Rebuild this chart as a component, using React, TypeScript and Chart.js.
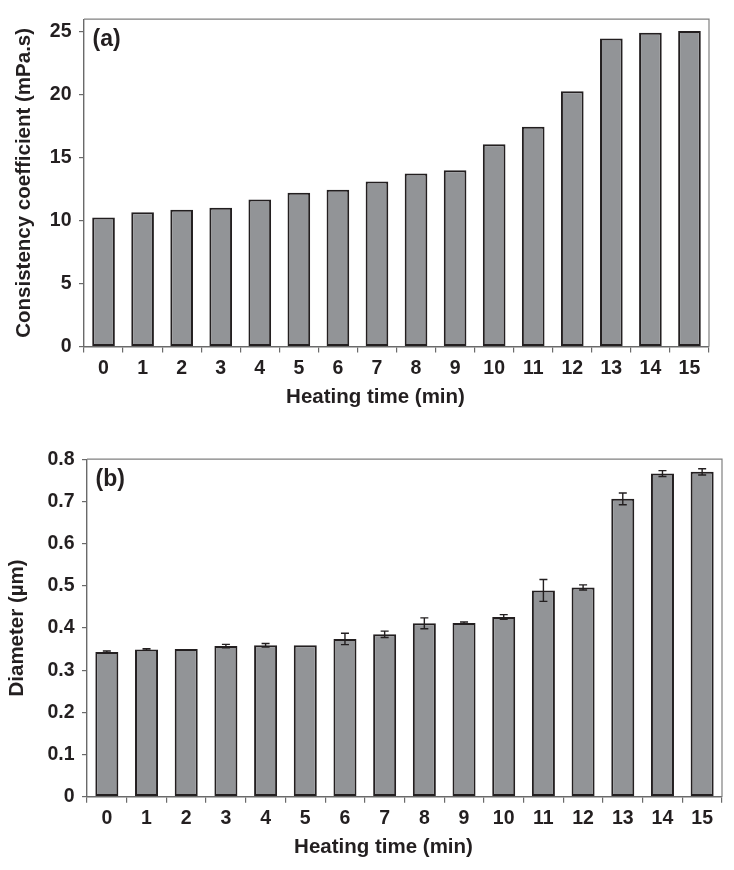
import React, { useEffect, useRef } from 'react';
import { Chart, registerables } from 'chart.js';

Chart.register(...registerables);

// ---------- data ----------
const heatingTimes = ['0', '1', '2', '3', '4', '5', '6', '7', '8', '9', '10', '11', '12', '13', '14', '15'];

const consistency = [10.25, 10.67, 10.87, 11.02, 11.68, 12.22, 12.45, 13.11, 13.75, 14.0, 16.07, 17.45, 20.28, 24.46, 24.92, 25.07];
const consistencyTicks = [0, 5, 10, 15, 20, 25];

const diameter = [0.343, 0.349, 0.35, 0.357, 0.359, 0.359, 0.374, 0.385, 0.411, 0.412, 0.426, 0.489, 0.496, 0.706, 0.766, 0.77];
const diameterErr = [0.0025, 0.002, 0, 0.004, 0.004, 0, 0.0135, 0.0075, 0.013, 0.002, 0.0055, 0.026, 0.006, 0.014, 0.007, 0.0075];
const diameterTicks = [0, 0.1, 0.2, 0.3, 0.4, 0.5, 0.6, 0.7, 0.8];

// ---------- styles ----------
const FONT = '"Liberation Sans", Arial, Helvetica, sans-serif';
const TEXT = '#231f20';
const BAR_FILL = '#929497';
const BAR_EDGE = '#231f20';
const AXIS = '#6a6a6a';

type PanelCfg = {
  label: string;
  yTitle: string;
  values: number[];
  errors?: number[];
  ticks: number[];
  yMax: number;
  tickFmt: (v: number) => string;
  pad: { top: number; right: number };
  yWidth: number;
  xHeight: number;
  yTitlePad: number;
};

const framePlugin = {
  id: 'frame',
  beforeDatasetsDraw(chart: any) {
    const { ctx, chartArea: a } = chart;
    ctx.save();
    ctx.strokeStyle = '#808080';
    ctx.lineWidth = 1.2;
    ctx.beginPath();
    ctx.moveTo(a.left, a.top);
    ctx.lineTo(a.right, a.top);
    ctx.lineTo(a.right, a.bottom);
    ctx.stroke();
    ctx.restore();
  },
};

const errorBarPlugin = {
  id: 'errorBars',
  afterDatasetsDraw(chart: any, _args: any, opts: any) {
    const errs: number[] | undefined = opts && opts.errors;
    if (!errs) return;
    const { ctx } = chart;
    const meta = chart.getDatasetMeta(0);
    const ys = chart.scales.y;
    const vals = chart.data.datasets[0].data as number[];
    ctx.save();
    ctx.strokeStyle = BAR_EDGE;
    ctx.lineWidth = 1.4;
    meta.data.forEach((bar: any, i: number) => {
      const e = errs[i];
      if (!e) return;
      const yHi = ys.getPixelForValue(vals[i] + e);
      const yLo = ys.getPixelForValue(vals[i] - e);
      const x = bar.x;
      ctx.beginPath();
      ctx.moveTo(x, yHi);
      ctx.lineTo(x, yLo);
      ctx.moveTo(x - 4, yHi);
      ctx.lineTo(x + 4, yHi);
      ctx.moveTo(x - 4, yLo);
      ctx.lineTo(x + 4, yLo);
      ctx.stroke();
    });
    ctx.restore();
  },
};

const textPlugin = {
  id: 'panelText',
  afterDraw(chart: any, _args: any, opts: any) {
    const { ctx, chartArea: a } = chart;
    ctx.save();
    ctx.fillStyle = TEXT;
    ctx.textBaseline = 'middle';
    ctx.textAlign = 'left';
    ctx.font = `bold 23px ${FONT}`;
    ctx.fillText(opts.label, a.left + 8.5, a.top + 20);
    ctx.textAlign = 'center';
    ctx.font = `bold 20.5px ${FONT}`;
    ctx.fillText(opts.xTitle, (a.left + a.right) / 2 - 21, a.bottom + 51);
    ctx.restore();
  },
};

function Panel({ cfg }: { cfg: PanelCfg }) {
  const ref = useRef<HTMLCanvasElement | null>(null);
  useEffect(() => {
    if (!ref.current) return;
    const chart = new Chart(ref.current, {
      type: 'bar',
      data: {
        labels: heatingTimes,
        datasets: [
          {
            data: cfg.values,
            backgroundColor: BAR_FILL,
            borderColor: BAR_EDGE,
            borderWidth: 2,
            borderSkipped: false,
            barPercentage: 0.58,
            categoryPercentage: 1,
          },
        ],
      },
      options: {
        responsive: false,
        animation: false,
        devicePixelRatio: 1,
        layout: { padding: { top: cfg.pad.top, right: cfg.pad.right, left: 0, bottom: 0 } },
        plugins: {
          legend: { display: false },
          tooltip: { enabled: false },
          errorBars: { errors: cfg.errors },
          panelText: { label: cfg.label, xTitle: 'Heating time (min)' },
        } as any,
        scales: {
          x: {
            grid: {
              display: true,
              drawOnChartArea: false,
              drawTicks: true,
              tickLength: 6,
              color: AXIS,
              lineWidth: 1.2,
              offset: true,
            },
            border: { display: true, color: AXIS, width: 1.4 },
            ticks: {
              color: TEXT,
              font: { family: FONT, size: 19.5, weight: 'bold' },
              padding: 4,
              maxRotation: 0,
              autoSkip: false,
            },
            afterFit: (s: any) => {
              s.height = cfg.xHeight;
            },
          },
          y: {
            min: 0,
            max: cfg.yMax,
            grid: {
              display: true,
              drawOnChartArea: false,
              drawTicks: true,
              tickLength: 5,
              color: AXIS,
              lineWidth: 1.2,
            },
            border: { display: true, color: AXIS, width: 1.4 },
            ticks: {
              color: TEXT,
              font: { family: FONT, size: 19.5, weight: 'bold' },
              padding: 7.5,
              callback: (v: any) => cfg.tickFmt(Number(v)),
            },
            afterBuildTicks: (s: any) => {
              s.ticks = cfg.ticks.map((v) => ({ value: v }));
            },
            title: {
              display: true,
              text: cfg.yTitle,
              color: TEXT,
              font: { family: FONT, size: 20.5, weight: 'bold' },
              padding: { top: cfg.yTitlePad, bottom: 0 },
            },
            afterFit: (s: any) => {
              s.width = cfg.yWidth;
            },
          },
        },
      } as any,
      plugins: [framePlugin, errorBarPlugin, textPlugin],
    });
    return () => chart.destroy();
  }, [cfg]);
  return <canvas ref={ref} width={734} height={430} style={{ display: 'block' }} />;
}

const panelA: PanelCfg = {
  label: '(a)',
  yTitle: 'Consistency coefficient (mPa.s)',
  values: consistency,
  ticks: consistencyTicks,
  yMax: 26,
  tickFmt: (v) => String(v),
  pad: { top: 7, right: 25 },
  yWidth: 84,
  xHeight: 83.5,
  yTitlePad: 12,
};

const panelB: PanelCfg = {
  label: '(b)',
  yTitle: 'Diameter (µm)',
  values: diameter,
  errors: diameterErr,
  ticks: diameterTicks,
  yMax: 0.8,
  tickFmt: (v) => (v === 0 ? '0' : v.toFixed(1)),
  pad: { top: 13, right: 12 },
  yWidth: 87,
  xHeight: 73.3,
  yTitlePad: 5,
};

export default function App() {
  return (
    <div style={{ position: 'absolute', left: 0, top: 0, width: 734, height: 870, background: '#fff' }}>
      <div style={{ position: 'absolute', left: 0, top: 0 }}>
        <Panel cfg={panelA} />
      </div>
      <div style={{ position: 'absolute', left: 0, top: 440 }}>
        <Panel cfg={panelB} />
      </div>
    </div>
  );
}
